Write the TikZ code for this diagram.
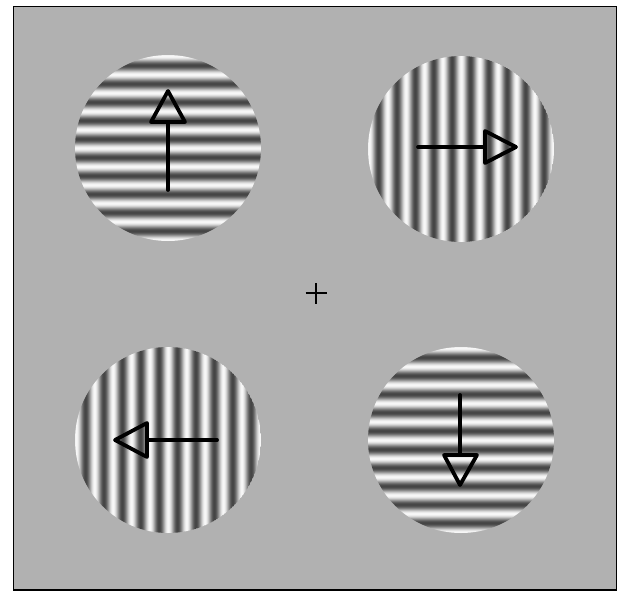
\documentclass[tikz,border=0pt]{standalone}
\definecolor{bggray}{HTML}{B1B1B1}
\tikzset{
  x=1pt, y=-1pt,
  frame/.style={draw=black, line width=1.5pt, fill=bggray},
  arrowline/.style={draw=black, line width=3.8pt, line join=round, line cap=round},
  crossline/.style={draw=black, line width=1.5pt},
  grating/.pic={
    \begin{scope}
      \clip (0,0) circle (93pt);
      \foreach \k in {-94,...,94} {
        \pgfmathsetmacro\g{62+35*cos(19.565*\k)}
        \fill[white!\g!black] (-95,\k-0.5) rectangle (95,\k+0.8);
      }
    \end{scope}
  }
}
\begin{document}
\begin{tikzpicture}
\useasboundingbox (0,0) rectangle (621,592);
\fill[white] (0,0) rectangle (621,592);
\path[frame] (13.5,6.5) rectangle (616.5,590);
% gratings
\pic at (168,148) {grating};
\pic[rotate=90] at (461,149) {grating};
\pic[rotate=90] at (168,440) {grating};
\pic at (461,440) {grating};
% arrows
\coordinate (t1) at (168,190); \coordinate (b1) at (168,122);
\draw[arrowline] (t1) -- (b1);
\draw[arrowline] (168,91) -- (185,122) -- (151,122) -- cycle;
\coordinate (t2) at (418,147); \coordinate (b2) at (485,147);
\draw[arrowline] (t2) -- (b2);
\draw[arrowline] (516,147) -- (485,131) -- (485,163) -- cycle;
\coordinate (t3) at (217,440); \coordinate (b3) at (147,440);
\draw[arrowline] (t3) -- (b3);
\draw[arrowline] (115,440) -- (147,423) -- (147,457) -- cycle;
\coordinate (t4) at (460,395); \coordinate (b4) at (460,455);
\draw[arrowline] (t4) -- (b4);
\draw[arrowline] (460,485) -- (444,455) -- (477,455) -- cycle;
% fixation cross
\coordinate (fc) at (316,293);
\draw[crossline] ([xshift=-10.5pt]fc) -- ([xshift=10.5pt]fc);
\draw[crossline] ([yshift=-10.5pt]fc) -- ([yshift=10.5pt]fc);
\end{tikzpicture}
\end{document}
